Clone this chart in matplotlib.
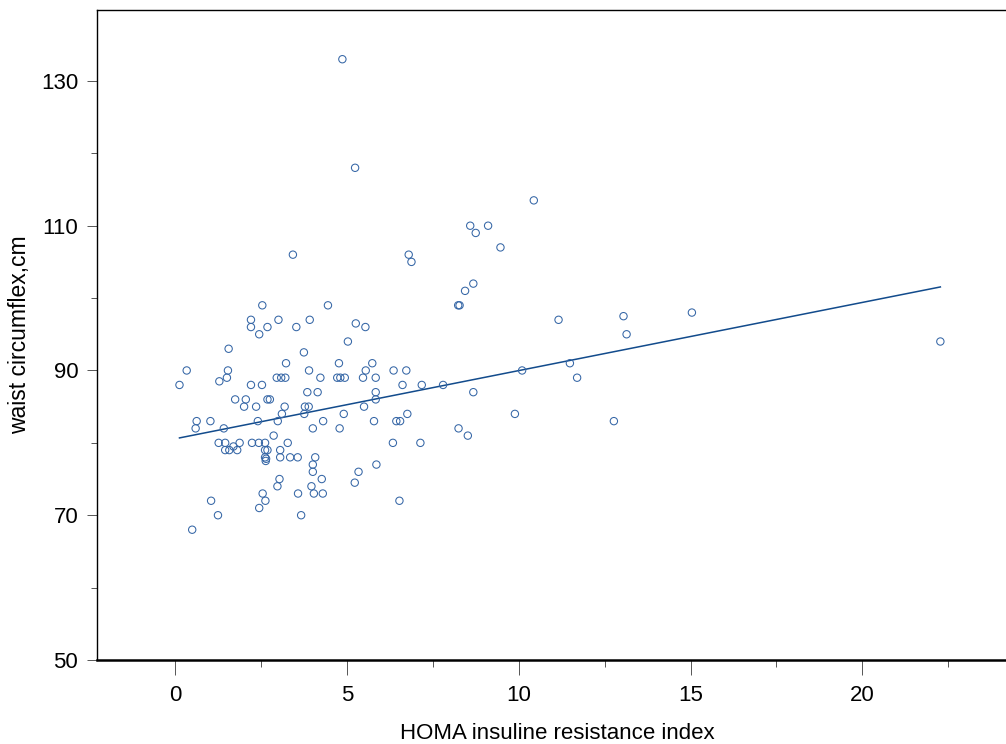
import numpy as np
import matplotlib
matplotlib.use("Agg")
import matplotlib.pyplot as plt
from matplotlib.ticker import MultipleLocator

plt.rcParams['font.family'] = ['Liberation Sans', 'DejaVu Sans']

# HOMA index (x) and waist circumference in cm (y)
homa = [4.87, 5.24, 10.44, 8.59, 9.11, 8.75, 9.47, 6.80, 6.88, 3.43,
        8.68, 8.44, 8.24, 8.28, 2.54, 4.45, 11.16, 13.05, 13.14, 15.04,
        22.27, 2.21, 3.01, 3.92, 5.26, 2.21, 2.69, 3.53, 5.54, 2.45,
        5.03, 1.56, 3.75, 3.23, 4.77, 5.74, 0.34, 1.54, 3.90, 5.55,
        6.36, 6.73, 10.10, 1.51, 2.96, 3.09, 3.21, 4.23, 4.72, 4.81,
        4.94, 5.47, 5.84, 11.49, 11.70, 0.13, 1.29, 2.21, 2.53, 6.62,
        7.18, 7.80, 3.85, 4.15, 5.84, 8.68, 1.75, 2.06, 2.69, 2.76,
        5.84, 2.01, 2.36, 3.19, 3.78, 3.89, 5.50, 3.11, 3.76, 4.91,
        6.76, 9.89, 0.63, 1.03, 2.41, 2.99, 4.31, 5.79, 6.44, 6.55,
        12.77, 0.60, 1.42, 4.01, 4.79, 8.25, 2.87, 8.52, 1.27, 1.46,
        1.88, 2.24, 2.44, 2.62, 3.28, 6.34, 7.14, 1.70, 1.46, 1.58,
        1.81, 2.62, 2.69, 3.06, 2.62, 2.65, 2.64, 3.06, 3.35, 3.57,
        4.08, 4.01, 5.86, 4.01, 5.34, 3.04, 4.27, 5.23, 2.98, 3.97,
        2.55, 3.58, 4.04, 4.30, 1.05, 2.63, 6.53, 2.45, 1.25, 3.67,
        0.50]
waist = [133, 118, 113.5, 110, 110, 109, 107, 106, 105, 106,
         102, 101, 99, 99, 99, 99, 97, 97.5, 95, 98,
         94, 97, 97, 97, 96.5, 96, 96, 96, 96, 95,
         94, 93, 92.5, 91, 91, 91, 90, 90, 90, 90,
         90, 90, 90, 89, 89, 89, 89, 89, 89, 89,
         89, 89, 89, 91, 89, 88, 88.5, 88, 88, 88,
         88, 88, 87, 87, 87, 87, 86, 86, 86, 86,
         86, 85, 85, 85, 85, 85, 85, 84, 84, 84,
         84, 84, 83, 83, 83, 83, 83, 83, 83, 83,
         83, 82, 82, 82, 82, 82, 81, 81, 80, 80,
         80, 80, 80, 80, 80, 80, 80, 79.5, 79, 79,
         79, 79, 79, 79, 78, 77.8, 77.5, 78, 78, 78,
         78, 77, 77, 76, 76, 75, 75, 74.5, 74, 74,
         73, 73, 73, 73, 72, 72, 72, 71, 70, 70,
         68]

# fitted line as drawn in the picture
fit_intercept = 80.56
fit_slope = 0.942

x_ticks = [0, 5, 10, 15, 20]
y_ticks = [50, 70, 90, 110, 130]

fig = plt.figure(figsize=(10.06, 7.44), dpi=100)
ax = fig.add_axes([97 / 1006, 1 - 660 / 744, 920 / 1006, 650 / 744])

ax.scatter(homa, waist, s=28, facecolors='none', edgecolors='#3566a6', linewidths=0.75, zorder=3)

xs = np.array([min(homa), max(homa)])
ax.plot(xs, fit_intercept + fit_slope * xs, color='#124b8c', lw=1.1, zorder=2)

ax.set_xlim(-2.27, 24.5)
ax.set_ylim(50, 139.8)
ax.set_xticks(x_ticks)
ax.set_yticks(y_ticks)
ax.xaxis.set_minor_locator(MultipleLocator(2.5))
ax.yaxis.set_minor_locator(MultipleLocator(10))

ax.tick_params(axis='x', which='major', length=11, width=0.7, pad=7, labelsize=16, color='#555555')
ax.tick_params(axis='x', which='minor', length=5, width=0.7, color='#555555')
ax.tick_params(axis='y', which='major', length=7.5, width=0.7, pad=6, labelsize=16, color='#555555')
ax.tick_params(axis='y', which='minor', length=4, width=0.7, color='#555555')

ax.spines['right'].set_visible(False)
ax.spines['bottom'].set_linewidth(1.8)
ax.spines['left'].set_linewidth(1.0)
ax.spines['top'].set_linewidth(1.0)

ax.set_xlabel('HOMA insuline resistance index', fontsize=16, labelpad=12)
ax.set_ylabel('waist circumflex,cm', fontsize=16.5, labelpad=7)

fig.savefig('out.png', dpi=100)
